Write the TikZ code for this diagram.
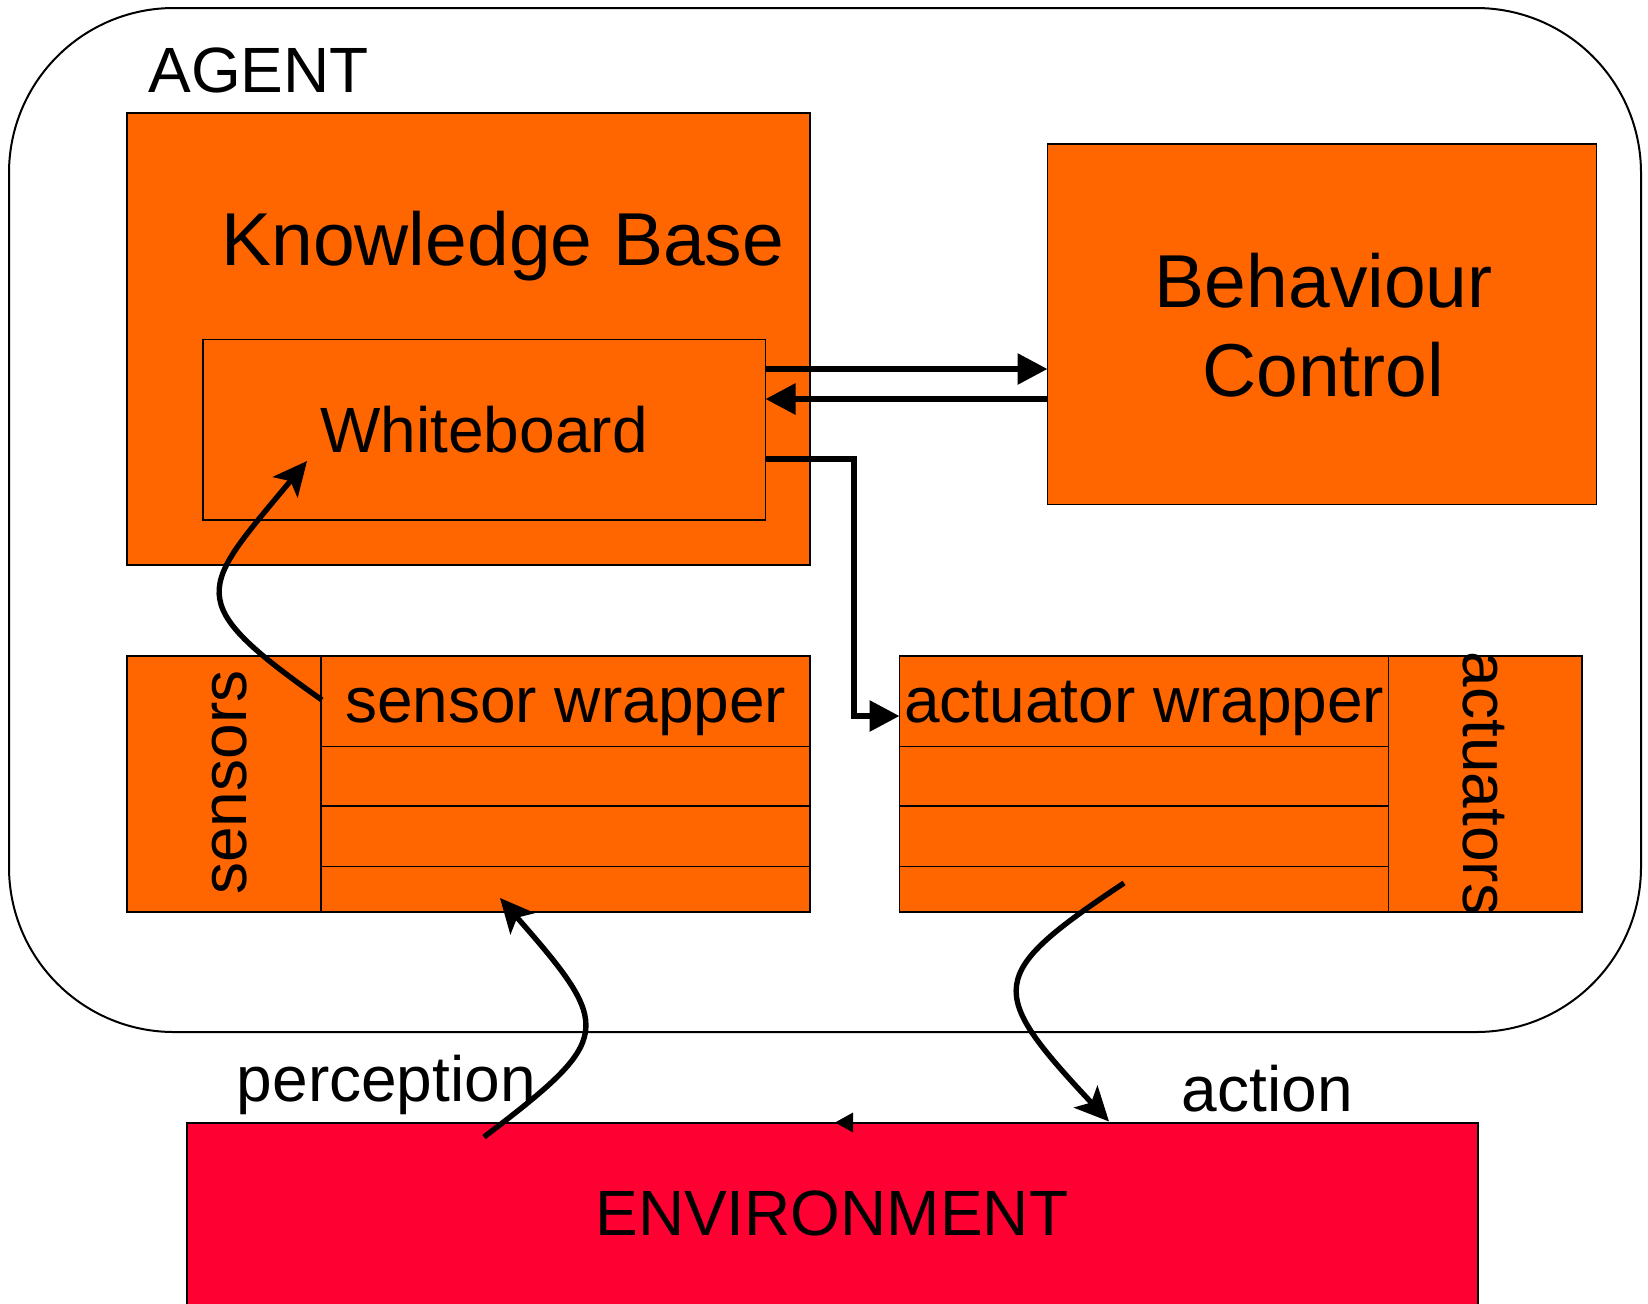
\documentclass[tikz,border=0pt]{standalone}
\usepackage{fontspec}
\setmainfont{Liberation Sans}
\usetikzlibrary{arrows.meta}
\definecolor{agentorange}{HTML}{FF6600}
\definecolor{envred}{HTML}{FF0033}
\begin{document}
\begin{tikzpicture}[x=0.5pt,y=-0.5pt,
  frame/.style={draw=black, line width=1pt, anchor=north west, inner sep=0pt, outer sep=0pt},
  block/.style={frame, line width=0.7pt, fill=agentorange},
  lbl/.style={inner sep=0pt, anchor=base west, font=\fontsize{32pt}{38pt}\selectfont},
  biglbl/.style={lbl, font=\fontsize{37.5pt}{45pt}\selectfont},
  rowline/.style={line width=0.7pt},
  link/.style={line width=3pt, -{Triangle[length=15pt,width=15pt]}},
  flow/.style={line width=2.7pt, -{Stealth[length=17pt,width=16pt,inset=4pt]}}
]
\useasboundingbox (0,0) rectangle (1648,1303);

% agent container
\node[frame, rounded corners=82.5pt, minimum width=816pt, minimum height=512pt] (agent) at (9,8) {};
\node[lbl] (agentlbl) at (148,92.7) {AGENT};

% knowledge base with whiteboard
\node[block, minimum width=341.5pt, minimum height=226pt] (kb) at (127,113) {};
\node[biglbl] (kblbl) at (221,265) {Knowledge Base};
\node[block, minimum width=281.25pt, minimum height=90.25pt] (wb) at (203,339.5) {};
\node[lbl] (wblbl) at (320,452) {Whiteboard};

% behaviour control
\node[block, minimum width=274.5pt, minimum height=180.25pt] (bc) at (1047.5,144) {};
\node[biglbl] (bclbl1) at (1154.5,307) {Behaviour};
\node[biglbl] (bclbl2) at (1202,396) {Control};

% sensors and sensor wrapper
\node[block, minimum width=97pt, minimum height=128pt] (sens) at (127,656) {};
\node[block, minimum width=244.5pt, minimum height=128pt] (sw) at (321,656) {};
\foreach \yy in {746.5,806,866.7}
  \draw[rowline] (sw.west |- 0,\yy) -- (sw.east |- 0,\yy);
\node[lbl, rotate=90] (senslbl) at (246,895) {sensors};
\node[lbl] (swlbl) at (344.7,722.7) {sensor wrapper};

% actuator wrapper and actuators
\node[block, minimum width=244.5pt, minimum height=128pt] (aw) at (899.5,656) {};
\foreach \yy in {746.5,806,866.7}
  \draw[rowline] (aw.west |- 0,\yy) -- (aw.east |- 0,\yy);
\node[block, minimum width=96.75pt, minimum height=128pt] (act) at (1388.5,656) {};
\node[lbl] (awlbl) at (903.7,722.7) {actuator wrapper};
\node[lbl, rotate=-90] (actlbl) at (1463,651.5) {actuators};

% environment
\node[frame, fill=envred, minimum width=645.5pt, minimum height=100pt] (env) at (187,1122.5) {};
\node[lbl] (envlbl) at (595,1235) {ENVIRONMENT};
\fill (853,1112.5) -- (835,1122.5) -- (853,1132.5) -- cycle;

\node[lbl] (perlbl) at (236.5,1101.7) {perception};
\node[lbl] (actionlbl) at (1181.5,1111.7) {action};

% whiteboard <-> behaviour control, whiteboard -> actuator wrapper
\draw[link] (wb.east |- 0,369) -- (bc.west |- 0,369);
\draw[link] (bc.west |- 0,399) -- (wb.east |- 0,399);
\draw[link] (wb.east |- 0,459) -| (854,716) -- (aw.west |- 0,716);

% perception / action flows
\coordinate (sStart) at (322,700);
\coordinate (sTip) at (307,461);
\draw[flow] (sStart) .. controls (180,600) and (200,590) .. (sTip);

\coordinate (pStart) at (484,1137);
\coordinate (pTip) at (500,898);
\draw[flow] (pStart) .. controls (614,1038) and (614,1028) .. (pTip);

\coordinate (aStart) at (1124,883);
\coordinate (aTip) at (1109,1121.5);
\draw[flow] (aStart) .. controls (986,975) and (986,990) .. (aTip);
\end{tikzpicture}
\end{document}
